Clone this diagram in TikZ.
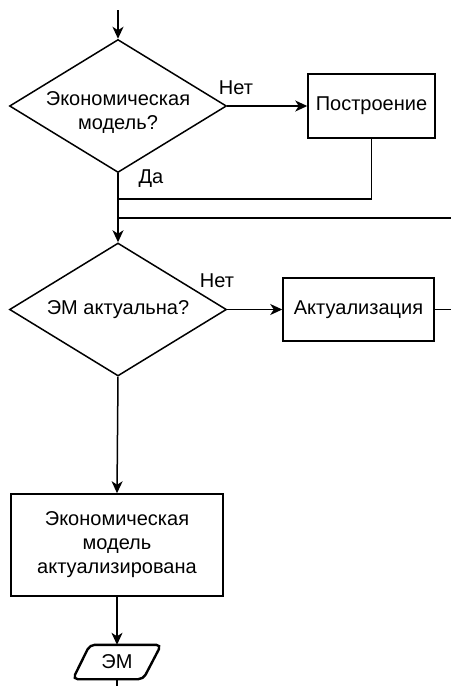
\documentclass[tikz,border=0pt]{standalone}
\usepackage{fontspec}
\setmainfont{Liberation Sans}
\usetikzlibrary{arrows.meta,shapes.geometric}

\tikzset{
  flow/.style={line width=1.5pt, -{Stealth[length=12pt,width=11pt,inset=3.5pt]}},
  plain/.style={line width=1.5pt},
  decision/.style={diamond, draw, line width=1.5pt, inner sep=0pt, aspect=1.64,
    minimum width=217pt, minimum height=133pt, align=center, font=\fontsize{20}{24}\selectfont},
  process/.style={rectangle, draw, line width=1.5pt, inner sep=0pt, align=center,
    font=\fontsize{20}{24}\selectfont},
  lbl/.style={font=\fontsize{20}{24}\selectfont, inner sep=0pt},
}

\begin{document}
\begin{tikzpicture}[x=1pt,y=-1pt]
  \useasboundingbox (0,0) rectangle (451,686);

  % entry point
  \coordinate (in) at (118,10);

  % first decision and model construction
  \node[decision] (d1) at (118,106) {};
  \node[font=\fontsize{20}{24}\selectfont, align=center, inner sep=0pt] (t1) at (118,113) {Экономическая\\модель?};
  \node[process, minimum width=127pt, minimum height=64pt] (b1) at (371.5,106) {Построение};
  \node[lbl] (no1) at (236,88) {Нет};
  \node[lbl] (yes1) at (151,179) {Да};

  % merge points below the first decision
  \coordinate (m1) at (118,199);
  \coordinate (m2) at (118,218);
  \coordinate (m2r) at (451,218);

  % second decision and update
  \node[decision] (d2) at (118,309.5) {ЭМ актуальна?};
  \node[process, minimum width=151pt, minimum height=63pt] (b2) at (358.5,309.5) {Актуализация};
  \coordinate (b2out) at (451,309.5);
  \node[lbl] (no2) at (217,281) {Нет};

  % result
  \node[process, minimum width=212pt, minimum height=102pt] (b3) at (117,545)
    {Экономическая\\модель\\актуализирована};

  % data output
  \node[minimum width=88pt, minimum height=34pt, inner sep=0pt,
    font=\fontsize{20}{24}\selectfont] (em) at (117,662) {ЭМ};
  \draw[line width=2.4pt, rounded corners=5pt]
    ([xshift=-27pt]em.north east) -- (em.north east)
    -- ([xshift=-18pt]em.south east) -- (em.south west)
    -- ([xshift=17pt]em.north west) -- cycle;
  \coordinate (out) at (117,686);

  % connectors
  \draw[flow] (in) -- (d1.north);
  \draw[flow] (d1.east) -- (b1.west);
  \draw[plain] (b1.south) |- (m1);
  \draw[flow] (d1.south) -- (d2.north);
  \draw[plain] (m2) -- (m2r);
  \draw[flow] (d2.east) -- (b2.west);
  \draw[plain] (b2.east) -- (b2out);
  \draw[flow] (d2.south) -- (b3.north);
  \draw[flow] (b3.south) -- (em.north);
  \draw[plain] (em.south) -- (out);
\end{tikzpicture}
\end{document}
